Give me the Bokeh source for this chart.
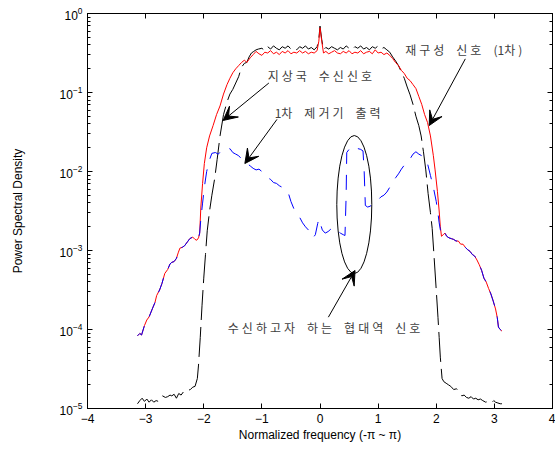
from bokeh.plotting import figure
from bokeh.models import LinearAxis, LogAxis, FixedTicker, Arrow, VeeHead, Label, Range1d
from bokeh.embed import file_html
from bokeh.resources import INLINE

# ---------------- data (log10 of power spectral density) ----------------
red_x = [-3.14, -3.10, -3.07, -3.02, -2.98, -2.94, -2.88, -2.84, -2.81, -2.76, -2.72, -2.67,
         -2.62, -2.58, -2.55, -2.51, -2.47, -2.44, -2.41, -2.37, -2.33, -2.28, -2.24, -2.19,
         -2.15, -2.12, -2.09,
         -2.07, -2.05, -2.02, -1.99, -1.95, -1.90, -1.84, -1.78, -1.72, -1.66, -1.60, -1.55,
         -1.50, -1.45, -1.40, -1.35, -1.30, -1.26, -1.20, -1.15, -1.10, -1.05, -1.00, -0.95,
         -0.90, -0.85, -0.80, -0.75, -0.70, -0.65, -0.60, -0.55, -0.50, -0.45, -0.40, -0.35,
         -0.30, -0.25, -0.20, -0.15, -0.10, -0.05, -0.02, 0.00, 0.03, 0.06, 0.10, 0.15, 0.20,
         0.25, 0.30, 0.35, 0.40, 0.45, 0.50, 0.55, 0.60, 0.65, 0.70, 0.75, 0.80, 0.85, 0.90,
         0.95, 1.00, 1.05, 1.10, 1.15, 1.20, 1.25, 1.30, 1.35, 1.40, 1.45, 1.50, 1.55, 1.60,
         1.65, 1.70, 1.75, 1.80, 1.85, 1.90, 1.95, 1.98, 2.02, 2.05, 2.07,
         2.09, 2.12, 2.15, 2.18, 2.22, 2.26, 2.30, 2.34, 2.38, 2.42, 2.46, 2.50, 2.54, 2.58,
         2.62, 2.66, 2.70, 2.74, 2.78, 2.82, 2.86, 2.90, 2.94, 2.98, 3.02, 3.05, 3.07, 3.10,
         3.13]
red_log = [-4.08, -4.05, -4.07, -3.95, -3.88, -3.84, -3.73, -3.66, -3.57, -3.50, -3.42, -3.29,
           -3.24, -3.17, -3.15, -3.14, -3.10, -3.03, -2.97, -2.96, -2.94, -2.89, -2.85, -2.83,
           -2.86, -2.87, -2.84,
           -2.78, -2.45, -2.15, -1.90, -1.70, -1.55, -1.42, -1.28, -1.17, -1.02, -0.90, -0.82,
           -0.75, -0.70, -0.66, -0.62, -0.59, -0.62, -0.56, -0.52, -0.48, -0.51, -0.53, -0.49,
           -0.50, -0.47, -0.51, -0.49, -0.52, -0.48, -0.50, -0.47, -0.51, -0.49, -0.50, -0.47,
           -0.50, -0.48, -0.51, -0.49, -0.50, -0.47, -0.35, -0.18, -0.35, -0.50, -0.48, -0.51,
           -0.49, -0.47, -0.50, -0.51, -0.48, -0.50, -0.47, -0.51, -0.49, -0.50, -0.47, -0.51,
           -0.49, -0.48, -0.51, -0.46, -0.50, -0.49, -0.52, -0.50, -0.53, -0.57, -0.62, -0.66,
           -0.72, -0.76, -0.82, -0.85, -0.90, -0.95, -1.05, -1.15, -1.28, -1.38, -1.55, -1.80,
           -1.98, -2.25, -2.50, -2.70,
           -2.82, -2.80, -2.78, -2.82, -2.84, -2.85, -2.86, -2.88, -2.88, -2.92, -2.92, -2.96,
           -2.99, -3.01, -3.05, -3.07, -3.12, -3.18, -3.25, -3.35, -3.40, -3.48, -3.55, -3.64,
           -3.74, -3.85, -3.97, -4.00, -4.02]

blue_in_x = [-2.05, -2.02, -1.99, -1.95, -1.90, -1.86, -1.80, -1.75, -1.70, -1.65, -1.60, -1.55,
             -1.50, -1.45, -1.40, -1.35, -1.30, -1.25, -1.20, -1.15, -1.10, -1.05, -1.00, -0.95,
             -0.90, -0.85, -0.80, -0.75, -0.70, -0.65, -0.60, -0.55, -0.50, -0.45, -0.40, -0.35,
             -0.30, -0.25, -0.20, -0.15, -0.12, -0.08, -0.04, -0.02, 0.04, 0.09, 0.14, 0.20,
             0.25, 0.30, 0.35, 0.40, 0.43, 0.45, 0.46, 0.50, 0.55, 0.60, 0.65, 0.70, 0.74, 0.76,
             0.78, 0.82, 0.86, 0.90, 0.95, 1.00, 1.05, 1.10, 1.15, 1.20, 1.25, 1.30, 1.35, 1.40,
             1.45, 1.50, 1.55, 1.60, 1.65, 1.70, 1.75, 1.80, 1.85, 1.90, 1.95, 2.00, 2.03, 2.05]
blue_in_log = [-2.60, -2.40, -2.20, -2.00, -1.85, -1.77, -1.76, -1.78, -1.74, -1.72, -1.73, -1.71,
               -1.76, -1.78, -1.80, -1.84, -1.88, -1.90, -1.93, -1.96, -1.98, -1.97, -2.00, -2.04,
               -2.08, -2.10, -2.14, -2.15, -2.18, -2.20, -2.22, -2.26, -2.38, -2.47, -2.52, -2.58,
               -2.65, -2.70, -2.74, -2.80, -2.84, -2.80, -2.66, -2.60, -2.74, -2.78, -2.76, -2.72,
               -2.71, -2.75, -2.78, -2.80, -2.81, -2.30, -1.76, -1.72, -1.68, -1.70, -1.71, -1.72,
               -1.74, -2.00, -2.43, -2.45, -2.44, -2.42, -2.40, -2.36, -2.32, -2.30, -2.26, -2.20,
               -2.14, -2.08, -2.03, -1.97, -1.92, -1.86, -1.84, -1.78, -1.75, -1.78, -1.80, -1.85,
               -1.90, -2.05, -2.20, -2.38, -2.53, -2.65]

black_x = [-3.14, -3.10, -3.06, -3.02, -2.98, -2.94, -2.90, -2.86, -2.82, -2.78, -2.74, -2.71,
           -2.66, -2.62, -2.58, -2.55, -2.51, -2.47, -2.43, -2.39, -2.35, -2.31, -2.27, -2.23,
           -2.19, -2.15, -2.11, -2.09, -2.06, -2.03, -2.00, -1.97, -1.94, -1.90, -1.86, -1.81,
           -1.77, -1.72, -1.66, -1.60, -1.55, -1.50, -1.45, -1.40, -1.35, -1.30, -1.26, -1.22,
           -1.18, -1.14, -1.10, -1.06, -1.00, -0.95, -0.90, -0.85, -0.80, -0.75, -0.70, -0.65,
           -0.60, -0.55, -0.50, -0.45, -0.40, -0.35, -0.30, -0.25, -0.20, -0.15, -0.10, -0.05,
           -0.02, 0.00, 0.03, 0.06, 0.10, 0.15, 0.20, 0.25, 0.30, 0.35, 0.40, 0.45, 0.50, 0.55,
           0.60, 0.65, 0.70, 0.75, 0.80, 0.85, 0.90, 0.95, 1.00, 1.05, 1.10, 1.15, 1.20, 1.25,
           1.30, 1.35, 1.40, 1.45, 1.50, 1.55, 1.60, 1.65, 1.70, 1.74, 1.78, 1.82, 1.86, 1.90,
           1.93, 1.96, 2.00, 2.03, 2.05, 2.07, 2.10, 2.13, 2.17, 2.21, 2.25, 2.30, 2.35, 2.40,
           2.44, 2.48, 2.52, 2.56, 2.60, 2.64, 2.68, 2.72, 2.76, 2.80, 2.85, 2.90, 2.95, 2.99,
           3.02, 3.06, 3.10, 3.13]
black_log = [-4.94, -4.90, -4.87, -4.91, -4.88, -4.92, -4.89, -4.92, -4.90, -4.91, -4.88, -4.84,
             -4.86, -4.85, -4.83, -4.84, -4.82, -4.87, -4.81, -4.83, -4.79, -4.80, -4.77, -4.76,
             -4.73, -4.72, -4.62, -4.45, -4.10, -3.70, -3.35, -3.05, -2.75, -2.50, -2.30, -2.08,
             -1.85, -1.55, -1.28, -1.12, -1.02, -0.96, -0.88, -0.80, -0.68, -0.63, -0.62, -0.55,
             -0.50, -0.48, -0.46, -0.45, -0.44, -0.47, -0.42, -0.45, -0.41, -0.44, -0.46, -0.42,
             -0.44, -0.41, -0.45, -0.43, -0.46, -0.42, -0.44, -0.41, -0.45, -0.43, -0.46, -0.42,
             -0.32, -0.16, -0.33, -0.46, -0.43, -0.45, -0.42, -0.44, -0.46, -0.43, -0.45, -0.41,
             -0.44, -0.46, -0.42, -0.44, -0.41, -0.45, -0.43, -0.46, -0.42, -0.44, -0.41, -0.45,
             -0.43, -0.46, -0.49, -0.55, -0.60, -0.66, -0.74, -0.82, -0.93, -1.03, -1.15, -1.30,
             -1.42, -1.55, -1.75, -1.98, -2.28, -2.52, -2.72, -3.05, -3.50, -3.85, -4.10, -4.35,
             -4.62, -4.66, -4.68, -4.70, -4.72, -4.76, -4.75, -4.80, -4.84, -4.83, -4.86, -4.87,
             -4.85, -4.88, -4.87, -4.89, -4.88, -4.90, -4.92, -4.91, -4.93, -4.90, -4.92, -4.93,
             -4.94, -4.94]

x_ticks = [-4, -3, -2, -1, 0, 1, 2, 3, 4]

# ---------------- build series ----------------
red_y = [10 ** v for v in red_log]
black_y = [10 ** v for v in black_log]
left_part = [(x, y) for x, y in zip(red_x, red_log) if x <= -2.07]
right_part = [(x, y) for x, y in zip(red_x, red_log) if x >= 2.09]
blue_pts = left_part + list(zip(blue_in_x, blue_in_log)) + right_part
blue_x = [a for a, _ in blue_pts]
blue_y = [10 ** b for _, b in blue_pts]

p = figure(width=555, height=452, y_axis_type="log",
           x_range=Range1d(-4, 4), y_range=Range1d(1e-5, 1),
           output_backend="svg", toolbar_location=None,
           min_border_left=87, min_border_right=3, min_border_top=13, min_border_bottom=44)
p.background_fill_color = "white"
p.border_fill_color = "white"
p.outline_line_color = "black"
p.grid.visible = False

p.line(black_x, black_y, line_color="black", line_width=1, line_dash="30 7")
p.line(red_x, red_y, line_color="#ff0000", line_width=1)
p.line(blue_x, blue_y, line_color="#0000ff", line_width=1, line_dash="15 11")

# axes styling
def style_axis(ax, labels=True):
    ax.axis_line_color = "black"
    ax.major_tick_in = 5
    ax.major_tick_out = 0
    ax.minor_tick_in = 3
    ax.minor_tick_out = 0
    ax.major_tick_line_color = "black"
    ax.minor_tick_line_color = "black"
    if labels:
        ax.major_label_text_font = "Liberation Sans"
        ax.major_label_text_font_size = "12px"
        ax.major_label_text_color = "black"
        ax.axis_label_text_font = "Liberation Sans"
        ax.axis_label_text_font_size = "12px"
        ax.axis_label_text_font_style = "normal"
        ax.axis_label_text_color = "black"
    else:
        ax.major_label_text_font_size = "1px"
        ax.major_label_text_alpha = 0
        ax.major_label_standoff = 0

xa = p.xaxis[0]
xa.ticker = FixedTicker(ticks=x_ticks)
style_axis(xa)
xa.axis_label = "Normalized frequency (-\u03c0 ~ \u03c0)"
xa.major_label_standoff = 5
xa.axis_label_standoff = 2

ya = p.yaxis[0]
style_axis(ya)
ya.axis_label = "Power Spectral Density"
ya.major_label_standoff = 5
ya.axis_label_standoff = 32

top = LinearAxis(ticker=FixedTicker(ticks=x_ticks))
style_axis(top, labels=False)
p.add_layout(top, "above")
right = LogAxis()
style_axis(right, labels=False)
p.add_layout(right, "right")

# ellipse around narrowband signal
p.ellipse(x=[0.59], y=[10 ** -2.418], width=35, height=138,
          width_units="screen", height_units="screen",
          fill_color=None, line_color="black", line_width=1)

# annotations (letter-spaced Korean text)
g = "\u2005"   # small gap between letters
w = "\u2003"   # gap between words
def spaced(*words):
    return w.join(g.join(word) for word in words)

txt = dict(text_font="Noto Sans CJK KR", text_font_size="12px", text_color="#404040",
           text_baseline="middle", text_align="left")
p.add_layout(Label(x=-0.90, y=10 ** -0.785, text=spaced("지상국", "수신신호"), **txt))
p.add_layout(Label(x=-0.78, y=10 ** -1.253, text=w.join(["1차", g.join("제거기"), g.join("출력")]), **txt))
p.add_layout(Label(x=1.466, y=10 ** -0.456, text=w.join([g.join("재구성"), g.join("신호"), "(1차" + g + ")"]), **txt))
p.add_layout(Label(x=-1.586, y=10 ** -3.975, text=spaced("수신하고자", "하는", "협대역", "신호"), **txt))

def arrow(x0, l0, x1, l1):
    p.add_layout(Arrow(end=VeeHead(size=14, fill_color="black", line_color="black"),
                       x_start=x0, y_start=10 ** l0, x_end=x1, y_end=10 ** l1,
                       line_color="black", line_width=1))

arrow(-0.88, -0.88, -1.667, -1.354)
arrow(-0.74, -1.34, -1.293, -1.899)
arrow(2.50, -0.574, 1.879, -1.418)
arrow(0.144, -3.844, 0.603, -3.253)

open("out.html", "w").write(file_html(p, INLINE))
